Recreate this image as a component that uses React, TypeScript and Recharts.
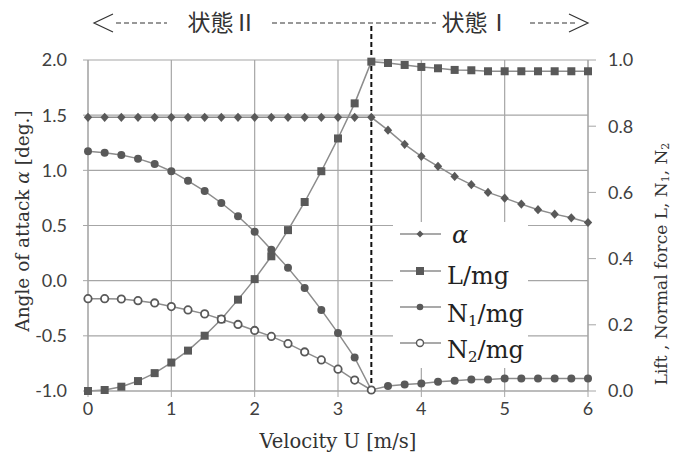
import React from "react";
import { CartesianGrid, Label, Legend, Line, LineChart, ReferenceLine, XAxis, YAxis } from "recharts";

const velocity = [
  0, 0.2, 0.4, 0.6, 0.8, 1.0, 1.2, 1.4, 1.6, 1.8, 2.0, 2.2, 2.4, 2.6, 2.8, 3.0,
  3.2, 3.4, 3.6, 3.8, 4.0, 4.2, 4.4, 4.6, 4.8, 5.0, 5.2, 5.4, 5.6, 5.8, 6.0
];
const alpha = [
  1.48, 1.48, 1.48, 1.48, 1.48, 1.48, 1.48, 1.48, 1.48, 1.48, 1.48, 1.48, 1.48, 1.48, 1.48, 1.48,
  1.48, 1.48, 1.364, 1.236, 1.127, 1.036, 0.945, 0.87, 0.8, 0.748, 0.694, 0.643, 0.603, 0.57, 0.527
];
const liftRatio = [
  0.0, 0.003, 0.013, 0.03, 0.054, 0.086, 0.122, 0.167, 0.217, 0.276, 0.338, 0.407, 0.486, 0.571, 0.664, 0.763,
  0.869, 0.995, 0.991, 0.985, 0.979, 0.975, 0.97, 0.969, 0.966, 0.966, 0.966, 0.966, 0.966, 0.966, 0.966
];
const normal1 = [
  0.724, 0.72, 0.713, 0.702, 0.686, 0.664, 0.635, 0.604, 0.568, 0.528, 0.481, 0.427, 0.372, 0.311, 0.245, 0.175,
  0.101, 0.003, 0.015, 0.02, 0.023, 0.028, 0.031, 0.035, 0.035, 0.038, 0.038, 0.038, 0.038, 0.038, 0.038
];
const normal2 = [
  0.279, 0.279, 0.278, 0.273, 0.266, 0.255, 0.245, 0.233, 0.217, 0.201, 0.183, 0.165, 0.143, 0.118, 0.094, 0.066,
  0.033, 0.003, null, null, null, null, null, null, null, null, null, null, null, null, null
];

const velocityTicks = [0, 1, 2, 3, 4, 5, 6];
const angleTicks = [-1, -0.5, 0, 0.5, 1, 1.5, 2];
const forceTicks = [0, 0.2, 0.4, 0.6, 0.8, 1.0];
const switchVelocity = 3.4;
const annotationLevel = 2.33;

const data = velocity.map((u, i) => ({
  u,
  alpha: alpha[i],
  lift: liftRatio[i],
  n1: normal1[i],
  n2: normal2[i]
}));

const MARK = "#595959";
const LINE = "#8c8c8c";
const GRID = "#a6a6a6";
const SERIF = "'DejaVu Serif', serif";

function Diamond(props: any) {
  const { cx, cy, index } = props;
  if (cx == null || cy == null) return <g key={`d${index}`} />;
  return <path key={`d${index}`} d={`M${cx},${cy - 4.6} L${cx + 4.2},${cy} L${cx},${cy + 4.6} L${cx - 4.2},${cy} Z`} fill={MARK} />;
}

function Square(props: any) {
  const { cx, cy, index } = props;
  if (cx == null || cy == null) return <g key={`s${index}`} />;
  return <rect key={`s${index}`} x={cx - 4} y={cy - 4} width={8} height={8} fill={MARK} />;
}

function Dot(props: any) {
  const { cx, cy, index } = props;
  if (cx == null || cy == null) return <g key={`c${index}`} />;
  return <circle key={`c${index}`} cx={cx} cy={cy} r={4} fill={MARK} />;
}

function OpenDot(props: any) {
  const { cx, cy, index } = props;
  if (cx == null || cy == null) return <g key={`o${index}`} />;
  return <circle key={`o${index}`} cx={cx} cy={cy} r={3.7} fill="#fff" stroke={MARK} strokeWidth={1.8} />;
}

function renderLegend() {
  const rows = [12, 49, 85, 121];
  return (
    <svg width={135} height={146} style={{ display: "block" }}>
      {rows.map((y) => (
        <line key={y} x1={7} x2={48} y1={y} y2={y} stroke={LINE} strokeWidth={1.5} />
      ))}
      <path d="M27,8.5 L30.5,12 L27,15.5 L23.5,12 Z" fill={MARK} />
      <rect x={23} y={45} width={8} height={8} fill={MARK} />
      <circle cx={27} cy={85} r={3.3} fill={MARK} />
      <circle cx={27} cy={121} r={3.5} fill="#fff" stroke={MARK} strokeWidth={1.4} />
      <g fontFamily={SERIF} fontSize={24} fill="#222">
        <text x={59} y={21} fontStyle="italic">α</text>
        <text x={54} y={62}>L/mg</text>
        <text x={54} y={100}>
          N<tspan fontSize={15} dy={4}>1</tspan>
          <tspan dy={-4}>/mg</tspan>
        </text>
        <text x={54} y={136}>
          N<tspan fontSize={15} dy={4}>2</tspan>
          <tspan dy={-4}>/mg</tspan>
        </text>
      </g>
    </svg>
  );
}

function renderXTitle() {
  return (
    <g>
      <text x={338} y={448} textAnchor="middle" fontFamily={SERIF} fontSize={19.5} fill="#333">
        Velocity U [m/s]
      </text>
      <g stroke="#333" strokeWidth={1.2} fill="none">
        <path d="M113,14 L94,23 L113,32" />
        <line x1={116} x2={167} y1={23} y2={23} strokeDasharray="5 3" />
        <line x1={272} x2={436} y1={23} y2={23} strokeDasharray="5 3" />
        <line x1={530} x2={578} y1={23} y2={23} strokeDasharray="5 3" />
        <path d="M569,14 L588,23 L569,32" />
      </g>
      <g fontFamily="'Noto Sans CJK JP', sans-serif" fontSize={23} fill="#333" textAnchor="middle">
        <text x={222} y={31}>状態Ⅱ</text>
        <text x={476} y={31}>状態Ⅰ</text>
      </g>
    </g>
  );
}

function renderLeftTitle() {
  return (
    <text x={22} y={221} transform="rotate(-90, 22, 221)" textAnchor="middle" dominantBaseline="central"
      fontFamily={SERIF} fontSize={18.5} fill="#333">
      Angle of attack <tspan fontStyle="italic">α</tspan> [deg.]
    </text>
  );
}

function renderRightTitle() {
  return (
    <text x={661} y={264} transform="rotate(-90, 661, 264)" textAnchor="middle" dominantBaseline="central"
      fontFamily={SERIF} fontSize={17} fill="#333">
      Lift , Normal force  L, N<tspan fontSize={11} dy={4}>1</tspan>
      <tspan dy={-4}>, N</tspan>
      <tspan fontSize={11} dy={4}>2</tspan>
    </text>
  );
}

const tickStyle = { fill: "#404040", fontSize: 18, fontFamily: "Lato, sans-serif" };

export default function App() {
  return (
    <div style={{ position: "absolute", left: 0, top: 0, width: 674, height: 465, background: "#fff" }}>
      <LineChart width={674} height={465} data={data} margin={{ top: 60, right: 26, bottom: 24, left: 28 }}>
        <CartesianGrid yAxisId="left" stroke={GRID} strokeWidth={1.2} />
        <XAxis
          type="number"
          dataKey="u"
          domain={[0, 6]}
          ticks={velocityTicks}
          height={50}
          tickSize={6}
          tickMargin={5}
          tick={tickStyle}
          stroke={GRID}
          axisLine={{ stroke: GRID }}
          tickLine={{ stroke: GRID }}
        >
          <Label content={renderXTitle} />
        </XAxis>
        <YAxis
          yAxisId="left"
          domain={[-1, 2]}
          ticks={angleTicks}
          width={60}
          tickSize={5}
          tickMargin={16}
          tick={tickStyle}
          tickFormatter={(v: number) => v.toFixed(1)}
          axisLine={{ stroke: GRID }}
          tickLine={{ stroke: GRID }}
        >
          <Label content={renderLeftTitle} />
        </YAxis>
        <YAxis
          yAxisId="right"
          orientation="right"
          domain={[0, 1]}
          ticks={forceTicks}
          width={60}
          tickSize={8}
          tickMargin={12}
          tick={tickStyle}
          tickFormatter={(v: number) => v.toFixed(1)}
          axisLine={{ stroke: GRID }}
          tickLine={{ stroke: GRID }}
        >
          <Label content={renderRightTitle} />
        </YAxis>
        <Line yAxisId="left" dataKey="alpha" stroke={LINE} strokeWidth={1.5} dot={Diamond} isAnimationActive={false} />
        <Line yAxisId="right" dataKey="lift" stroke={LINE} strokeWidth={1.5} dot={Square} isAnimationActive={false} />
        <Line yAxisId="right" dataKey="n1" stroke={LINE} strokeWidth={1.5} dot={Dot} isAnimationActive={false} />
        <Line yAxisId="right" dataKey="n2" stroke={LINE} strokeWidth={1.5} dot={OpenDot} isAnimationActive={false} />
        <ReferenceLine
          yAxisId="left"
          segment={[{ x: switchVelocity, y: -1 }, { x: switchVelocity, y: annotationLevel }]}
          ifOverflow="visible"
          stroke="#111"
          strokeWidth={2}
          strokeDasharray="5 3"
        />
        <Legend
          layout="vertical"
          align="center"
          verticalAlign="middle"
          content={renderLegend}
          wrapperStyle={{ position: "absolute", left: 393, top: 222, width: 135, height: 146, background: "#fff", overflow: "hidden" }}
        />
      </LineChart>
    </div>
  );
}
